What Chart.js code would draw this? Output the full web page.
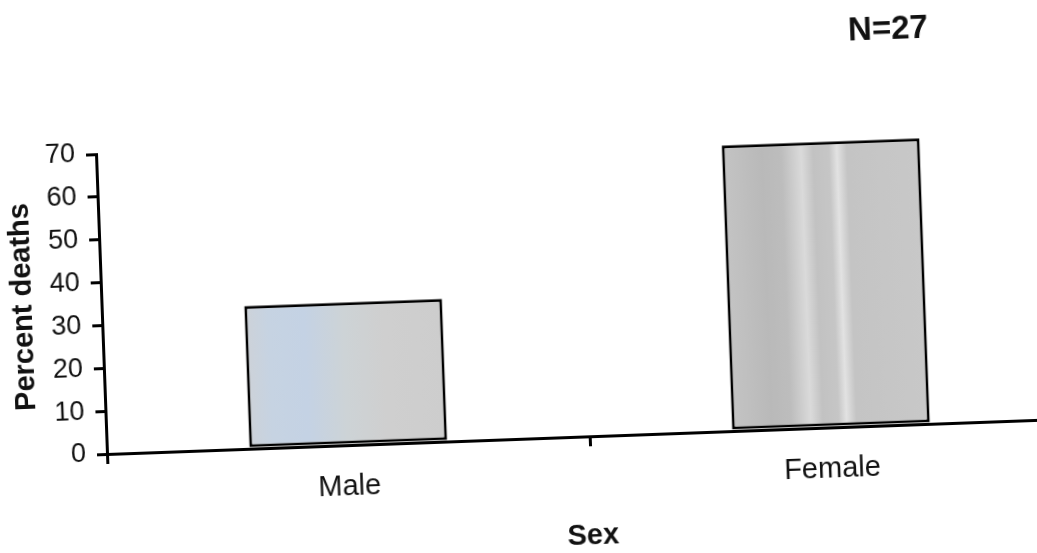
<!DOCTYPE html>
<html>
<head>
<meta charset="utf-8">
<script src="https://cdn.jsdelivr.net/npm/chart.js@4.4.1/dist/chart.umd.min.js"></script>
<style>
  html, body { margin: 0; padding: 0; background: #fff; overflow: hidden; width: 1037px; height: 553px; }
  #frame { position: absolute; left: 0; top: 0; width: 1080px; height: 580px;
           transform-origin: 107px 454px; transform: rotate(-2.1deg); }
  #frame canvas { position: absolute; left: 0; top: 0; }
  #note { position: absolute; left: 903px; top: 56px; transform: translate(-50%, -50%);
          font: bold 33px 'Liberation Sans', Arial, sans-serif; line-height: 1; color: #111; white-space: nowrap; }
</style>
</head>
<body>
<div id="frame">
  <canvas id="chart" width="1080" height="580"></canvas>
  <div id="note">N=27</div>
</div>
<script>
// Share of deaths by sex (N = 27)
const categories = ['Male', 'Female'];
const percentDeaths = [33.3, 66.7];
const yTickValues = [0, 10, 20, 30, 40, 50, 60, 70];

// Horizontal shading across each bar: [position within bar, colour]
const maleShade = [[0, '#cdd2d8'], [0.12, '#c6d3e2'], [0.3, '#c4d2e4'], [0.5, '#cdd3d6'], [0.7, '#cfcfcf'], [1, '#cdcdcd']];
const femaleShade = [[0, '#c4c4c4'], [0.2, '#b9b9b9'], [0.3, '#bdbdbd'], [0.4, '#dadada'], [0.46, '#c2c2c2'],
                     [0.54, '#c6c6c6'], [0.58, '#e2e2e2'], [0.63, '#c4c4c4'], [1, '#c8c8c8']];
const barShades = [maleShade, femaleShade];

const FONT = "'Liberation Sans', Arial, sans-serif";
const INK = '#111';
const BAR_PCT = 0.41;

function barFill(ctx) {
  const chart = ctx.chart;
  const xs = chart.scales.x;
  if (!xs || !chart.chartArea) return '#c8c8c8';
  const cx = xs.getPixelForValue(ctx.dataIndex);
  const half = xs.width / categories.length * BAR_PCT / 2;
  const g = chart.ctx.createLinearGradient(cx - half, 0, cx + half, 0);
  barShades[ctx.dataIndex].forEach(([p, c]) => g.addColorStop(p, c));
  return g;
}

new Chart(document.getElementById('chart'), {
  type: 'bar',
  data: {
    labels: categories,
    datasets: [{
      data: percentDeaths,
      backgroundColor: barFill,
      borderColor: '#000',
      borderWidth: 3,
      borderSkipped: false,
      barPercentage: BAR_PCT,
      categoryPercentage: 1
    }]
  },
  options: {
    responsive: false,
    animation: false,
    layout: { padding: { top: 154, right: 7, left: 0, bottom: 0 } },
    plugins: { legend: { display: false }, tooltip: { enabled: false } },
    scales: {
      x: {
        border: { color: '#000', width: 3 },
        grid: { display: true, drawOnChartArea: false, color: '#000', lineWidth: 3, tickLength: 10 },
        ticks: { color: INK, font: { family: FONT, size: 29 }, padding: 15, maxRotation: 0 },
        title: { display: true, text: 'Sex', color: INK, font: { family: FONT, size: 29, weight: 'bold' },
                 padding: { top: 0, bottom: 9 } },
        afterFit: (s) => { s.height = 126; }
      },
      y: {
        min: yTickValues[0],
        max: yTickValues[yTickValues.length - 1],
        afterBuildTicks: (s) => { s.ticks = yTickValues.map(v => ({ value: v })); },
        border: { color: '#000', width: 3 },
        grid: { display: true, drawOnChartArea: false, color: '#000', lineWidth: 3, tickLength: 10 },
        ticks: { color: INK, font: { family: FONT, size: 27 }, padding: 11 },
        title: { display: true, text: 'Percent deaths', color: INK, font: { family: FONT, size: 29, weight: 'bold' },
                 padding: { top: 12, bottom: 0 } },
        afterFit: (s) => { s.width = 107; }
      }
    }
  }
});
</script>
</body>
</html>
